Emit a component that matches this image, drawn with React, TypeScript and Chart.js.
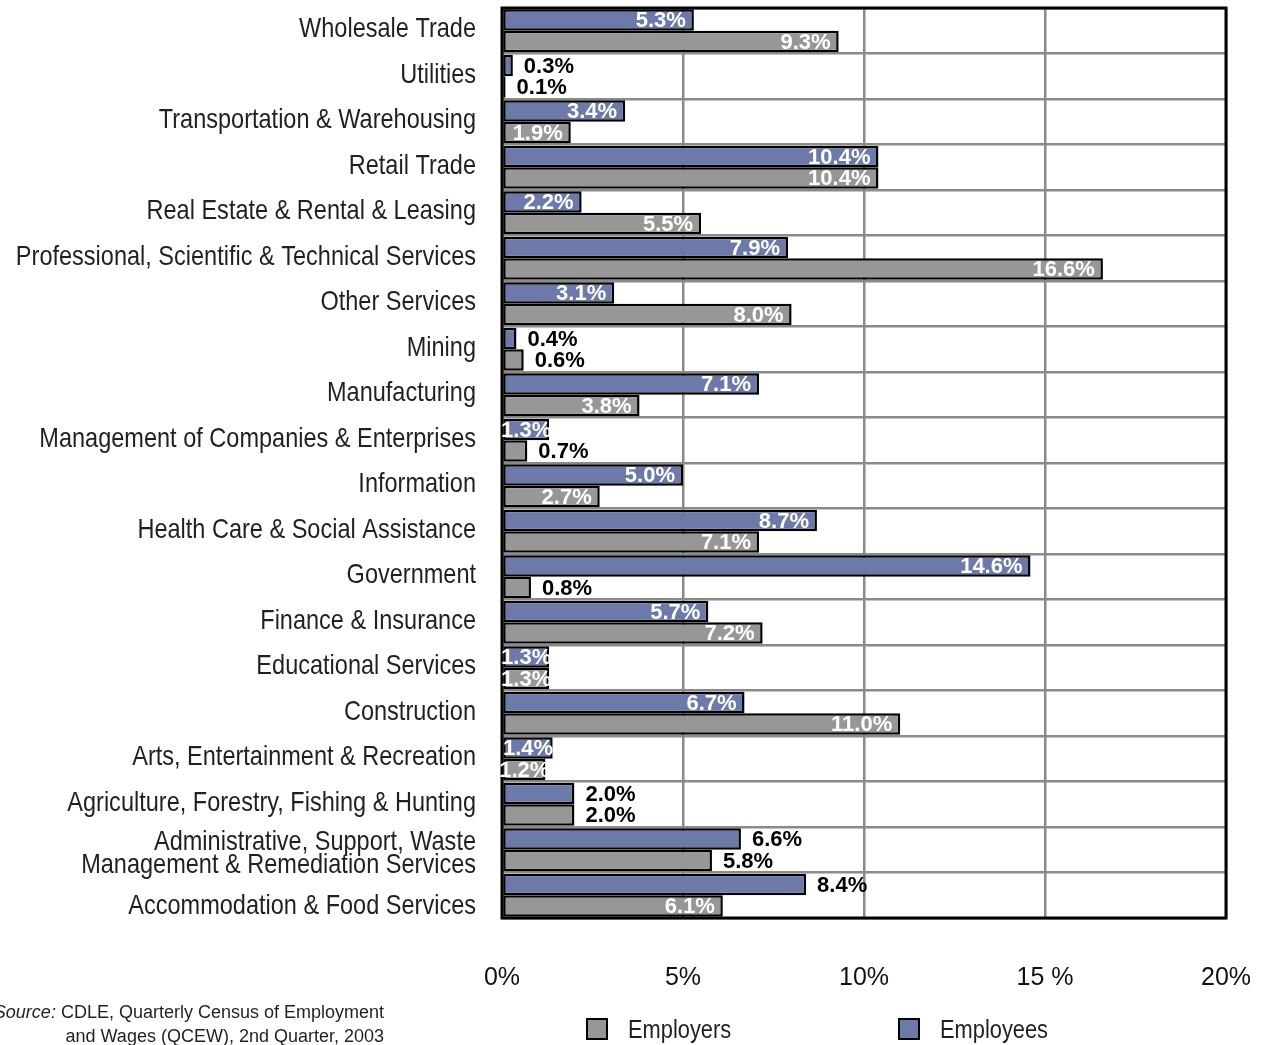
import React, { useEffect, useRef } from "react";
import { Chart, registerables } from "chart.js";

Chart.register(...registerables);

const categories: (string | string[])[] = [
  "Wholesale Trade",
  "Utilities",
  "Transportation & Warehousing",
  "Retail Trade",
  "Real Estate & Rental & Leasing",
  "Professional, Scientific & Technical Services",
  "Other Services",
  "Mining",
  "Manufacturing",
  "Management of Companies & Enterprises",
  "Information",
  "Health Care & Social Assistance",
  "Government",
  "Finance & Insurance",
  "Educational Services",
  "Construction",
  "Arts, Entertainment & Recreation",
  "Agriculture, Forestry, Fishing & Hunting",
  ["Administrative, Support, Waste", "Management & Remediation Services"],
  "Accommodation & Food Services",
];

const employees = [5.3, 0.3, 3.4, 10.4, 2.2, 7.9, 3.1, 0.4, 7.1, 1.3, 5.0, 8.7, 14.6, 5.7, 1.3, 6.7, 1.4, 2.0, 6.6, 8.4];
const employers = [9.3, 0.1, 1.9, 10.4, 5.5, 16.6, 8.0, 0.6, 3.8, 0.7, 2.7, 7.1, 0.8, 7.2, 1.3, 11.0, 1.2, 2.0, 5.8, 6.1];

const xTickLabels = ["0%", "5%", "10%", "15 %", "20%"];

const seriesNames = ["Employees", "Employers"];

const sourceLabel = "Source:";
const sourceLines = ["CDLE, Quarterly Census of Employment", "and Wages (QCEW), 2nd Quarter, 2003"];

// label placement style: indices whose value label is drawn outside the bar (black)
const outsideLabels: number[][] = [
  [1, 7, 17, 18, 19],
  [1, 7, 9, 12, 17, 18],
];

const BLUE = "#6c79a9";
const GRAY = "#979797";
const GRID = "#8a8a8a";
const TEXT = "#231f20";
const SANS = "'Liberation Sans', Arial, sans-serif";
const NARROW_SCALE = 0.84;

function narrowText(ctx: any, text: string, x: number, y: number, align: string, size: number) {
  ctx.save();
  ctx.translate(x, y);
  ctx.scale(NARROW_SCALE, 1);
  ctx.font = `${size}px ${SANS}`;
  ctx.textAlign = align;
  ctx.textBaseline = "middle";
  ctx.fillText(text, 0, 0);
  ctx.restore();
}

const decorPlugin = {
  id: "decor",
  beforeDatasetsDraw(chart: any) {
    const { ctx, chartArea: a } = chart;
    ctx.save();
    ctx.strokeStyle = "#000";
    ctx.lineWidth = 3;
    ctx.strokeRect(a.left, a.top, a.right - a.left, a.bottom - a.top);
    ctx.restore();
  },
  afterDatasetsDraw(chart: any) {
    const { ctx } = chart;
    ctx.save();
    ctx.font = `bold 22px ${SANS}`;
    ctx.textBaseline = "middle";
    chart.data.datasets.forEach((ds: any, di: number) => {
      const meta = chart.getDatasetMeta(di);
      meta.data.forEach((el: any, i: number) => {
        const v = ds.data[i];
        const txt = v.toFixed(1) + "%";
        const w = ctx.measureText(txt).width;
        const y = el.y + 1;
        if (outsideLabels[di].includes(i)) {
          ctx.fillStyle = "#000";
          ctx.textAlign = "left";
          ctx.fillText(txt, el.x + 11, y);
        } else {
          ctx.fillStyle = "#fff";
          const bw = el.x - el.base;
          if (w + 12 <= bw) {
            ctx.textAlign = "right";
            ctx.fillText(txt, el.x - 8, y);
          } else {
            ctx.textAlign = "center";
            ctx.fillText(txt, (el.x + el.base) / 2, y);
          }
        }
      });
    });
    ctx.restore();
  },
  afterDraw(chart: any) {
    const { ctx, chartArea: a } = chart;
    const yScale = chart.scales.y;
    ctx.save();
    ctx.fillStyle = TEXT;
    // category labels (condensed)
    categories.forEach((lab, i) => {
      const lines = Array.isArray(lab) ? lab : [lab];
      let nudge = -2;
      if (i === categories.length - 1) nudge = 10;
      if (lines.length > 1) nudge = 3;
      const cy = yScale.getPixelForTick(i) + nudge;
      lines.forEach((ln, k) => {
        const ly = cy + (k - (lines.length - 1) / 2) * 23 + 1;
        narrowText(ctx, ln, a.left - 26, ly, "right", 28);
      });
    });
    // legend
    const items = [
      { name: seriesNames[1], color: GRAY, x: a.left + 85 },
      { name: seriesNames[0], color: BLUE, x: a.left + 397 },
    ];
    const ly = a.bottom + 111;
    items.forEach((it) => {
      ctx.fillStyle = it.color;
      ctx.fillRect(it.x, ly - 10, 20, 20);
      ctx.strokeStyle = "#000";
      ctx.lineWidth = 2;
      ctx.strokeRect(it.x, ly - 10, 20, 20);
      ctx.fillStyle = TEXT;
      narrowText(ctx, it.name, it.x + 41, ly + 2, "left", 26);
    });
    // source
    ctx.font = `18px ${SANS}`;
    ctx.fillStyle = TEXT;
    ctx.textBaseline = "middle";
    ctx.textAlign = "right";
    const rx = 384;
    ctx.fillText(sourceLines[0], rx, a.bottom + 95);
    const w1 = ctx.measureText(" " + sourceLines[0]).width;
    ctx.font = `italic 18px ${SANS}`;
    ctx.fillText(sourceLabel, rx - w1, a.bottom + 95);
    ctx.font = `18px ${SANS}`;
    ctx.fillText(sourceLines[1], rx, a.bottom + 119);
    ctx.restore();
  },
};

const zeroPadding = (s: any) => {
  s.paddingLeft = 0;
  s.paddingRight = 0;
  s.paddingTop = 0;
  s.paddingBottom = 0;
};

export default function App() {
  const ref = useRef<HTMLCanvasElement>(null);
  useEffect(() => {
    document.body.style.margin = "0";
    const chart = new Chart(ref.current!, {
      type: "bar",
      data: {
        labels: categories,
        datasets: [
          {
            label: seriesNames[0],
            data: employees,
            backgroundColor: BLUE,
            borderColor: "#000",
            borderWidth: 2.5,
            borderSkipped: false,
          },
          {
            label: seriesNames[1],
            data: employers,
            backgroundColor: GRAY,
            borderColor: "#000",
            borderWidth: 2.5,
            borderSkipped: false,
          },
        ],
      },
      options: {
        indexAxis: "y",
        animation: false,
        responsive: false,
        datasets: { bar: { categoryPercentage: 0.95, barPercentage: 1.0 } },
        layout: { padding: { top: 8, right: 35, left: 0, bottom: 52 } },
        plugins: { legend: { display: false }, tooltip: { enabled: false } },
        scales: {
          x: {
            min: 0,
            max: 20,
            ticks: {
              stepSize: 5,
              padding: 45,
              color: "#111",
              font: { family: SANS, size: 25 },
              callback: (v: any) => xTickLabels[Math.round(Number(v) / 5)],
            },
            grid: { color: GRID, lineWidth: 2.5, drawTicks: false },
            border: { display: false },
            afterFit: (s: any) => {
              s.height = 75;
              zeroPadding(s);
            },
          },
          y: {
            ticks: { display: false },
            grid: { color: GRID, lineWidth: 2.5, drawTicks: false, offset: true },
            border: { display: false },
            afterFit: (s: any) => {
              s.width = 502;
              zeroPadding(s);
            },
          },
        },
      },
      plugins: [decorPlugin],
    } as any);
    return () => chart.destroy();
  }, []);
  return <canvas ref={ref} width={1261} height={1045} style={{ display: "block" }} />;
}
